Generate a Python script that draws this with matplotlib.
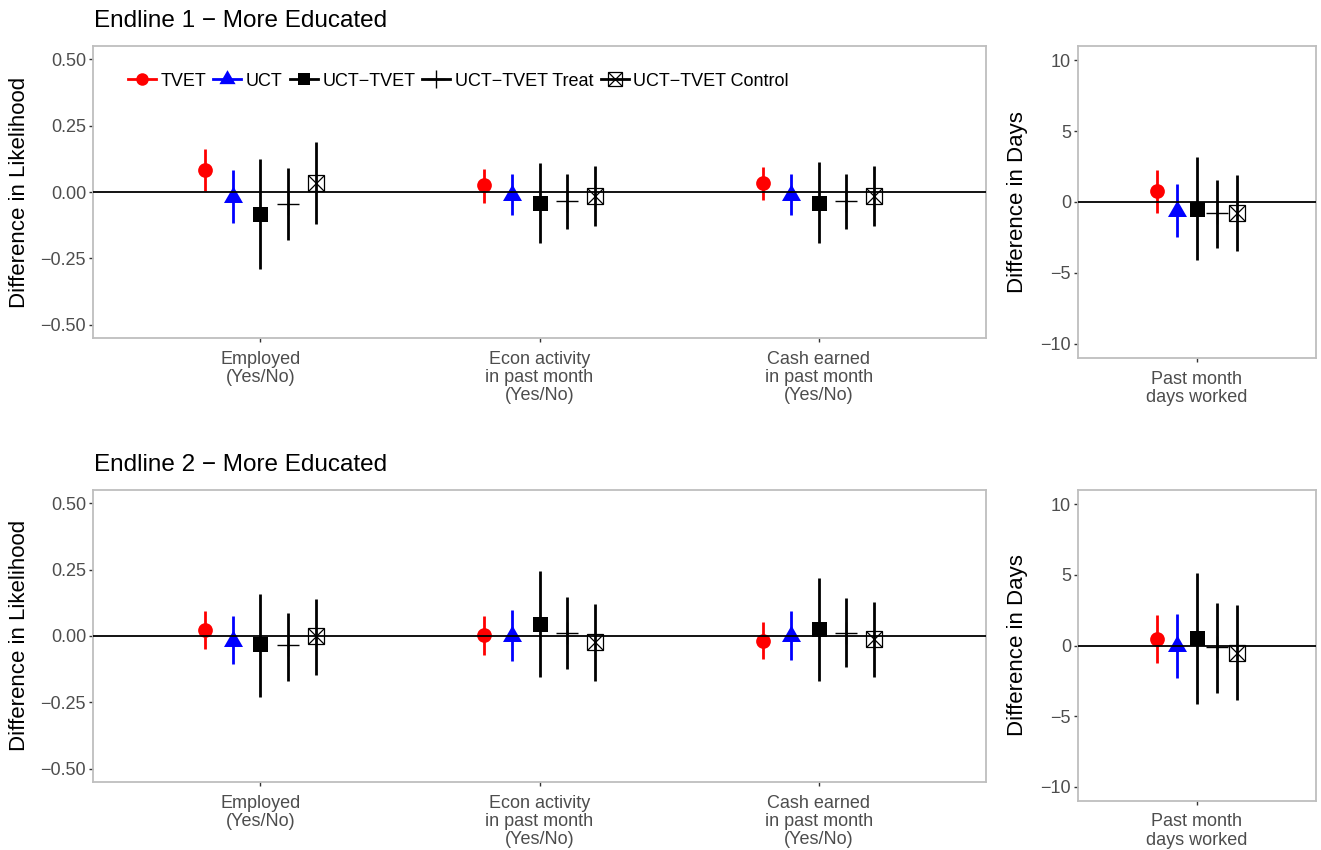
import matplotlib
matplotlib.use("Agg")
import matplotlib.pyplot as plt
from matplotlib.lines import Line2D
from matplotlib.legend_handler import HandlerTuple
import numpy as np

plt.rcParams['font.family'] = ['Liberation Sans', 'DejaVu Sans']

# ---------------------------------------------------------------- data
groups = ["TVET", "UCT", "UCT\u2212TVET", "UCT\u2212TVET Treat", "UCT\u2212TVET Control"]

likelihood_cats = ["Employed\n(Yes/No)",
                   "Econ activity\nin past month\n(Yes/No)",
                   "Cash earned\nin past month\n(Yes/No)"]
days_cats = ["Past month\ndays worked"]

likelihood_ticks = [-0.50, -0.25, 0.00, 0.25, 0.50]
likelihood_ticklabels = ["\u22120.50", "\u22120.25", "0.00", "0.25", "0.50"]
days_ticks = [-10, -5, 0, 5, 10]
days_ticklabels = ["\u221210", "\u22125", "0", "5", "10"]

# Endline 1, likelihood outcomes (rows: groups, columns: outcomes)
e1_like_est = [[0.082, 0.025, 0.033],
               [-0.020, -0.012, -0.012],
               [-0.081, -0.040, -0.040],
               [-0.044, -0.035, -0.035],
               [0.034, -0.016, -0.016]]
e1_like_lo = [[0.004, -0.040, -0.031],
              [-0.118, -0.088, -0.088],
              [-0.290, -0.191, -0.193],
              [-0.182, -0.138, -0.140],
              [-0.120, -0.128, -0.128]]
e1_like_hi = [[0.163, 0.088, 0.095],
              [0.082, 0.069, 0.069],
              [0.126, 0.110, 0.113],
              [0.091, 0.066, 0.068],
              [0.189, 0.098, 0.098]]

# Endline 1, days worked
e1_days_est = [[0.75], [-0.60], [-0.50], [-0.80], [-0.75]]
e1_days_lo = [[-0.77], [-2.46], [-4.10], [-3.24], [-3.45]]
e1_days_hi = [[2.28], [1.29], [3.17], [1.57], [1.92]]

# Endline 2, likelihood outcomes
e2_like_est = [[0.023, 0.005, -0.018],
               [-0.020, 0.000, 0.000],
               [-0.031, 0.044, 0.026],
               [-0.034, 0.013, 0.013],
               [-0.001, -0.024, -0.013]]
e2_like_lo = [[-0.048, -0.070, -0.085],
              [-0.106, -0.095, -0.091],
              [-0.229, -0.154, -0.169],
              [-0.168, -0.123, -0.118],
              [-0.148, -0.169, -0.154]]
e2_like_hi = [[0.093, 0.074, 0.051],
              [0.075, 0.099, 0.094],
              [0.159, 0.243, 0.218],
              [0.085, 0.146, 0.143],
              [0.140, 0.121, 0.128]]

# Endline 2, days worked
e2_days_est = [[0.45], [-0.05], [0.55], [-0.12], [-0.50]]
e2_days_lo = [[-1.24], [-2.28], [-4.15], [-3.33], [-3.87]]
e2_days_hi = [[2.16], [2.23], [5.16], [2.98], [2.84]]

titles = ["Endline 1 \u2212 More Educated", "Endline 2 \u2212 More Educated"]

# ---------------------------------------------------------------- styles
TRI = [(-1.0, -0.57735), (1.0, -0.57735), (0.0, 1.1547), (-1.0, -0.57735)]
styles = [
    dict(color="#FF0000", marker="o", ms=10.6, mfc="#FF0000", mew=0),
    dict(color="#0000FF", marker=TRI, ms=15.8, mfc="#0000FF", mew=0),
    dict(color="black", marker="s", ms=10.8, mfc="black", mew=0),
    dict(color="black", marker="+", ms=15.6, mfc="none", mew=1.0),
    dict(color="black", marker="s", ms=11.3, mfc="none", mew=0.9),
]
ERR_LW = 2.0
TICK_GREY = "#4D4D4D"
BORDER = "#BEBEBE"
W, H = 1321, 850

fig = plt.figure(figsize=(W / 100, H / 100), dpi=100)


def add_axes_px(left, top, right, bottom):
    return fig.add_axes([left / W, 1 - bottom / H, (right - left) / W, (bottom - top) / H])


def draw_panel(ax, cats, est, lo, hi, ylim, ticks, ticklabels):
    n = len(cats)
    x = np.arange(1, n + 1)
    offsets = (np.arange(len(groups)) - 2) * 0.1
    for gi, st in enumerate(styles):
        xs = x + offsets[gi]
        ax.vlines(xs, lo[gi], hi[gi], color=st["color"], lw=ERR_LW, zorder=2)
        ax.plot(xs, est[gi], linestyle="none", marker=st["marker"], ms=st["ms"],
                mfc=st["mfc"], mec=st["color"], mew=st["mew"], zorder=3)
        if gi == 4:
            ax.plot(xs, est[gi], linestyle="none", marker="x", ms=st["ms"],
                    mec="black", mew=0.9, zorder=3)
    ax.axhline(0, color="black", lw=1.3, zorder=4)
    ax.set_xlim(0.4, n + 0.6)
    ax.set_ylim(*ylim)
    ax.set_xticks(x)
    ax.set_xticklabels(cats, linespacing=1.08)
    ax.set_yticks(ticks)
    ax.set_yticklabels(ticklabels)
    ax.tick_params(axis="both", colors="#333333", labelcolor=TICK_GREY,
                   labelsize=13, length=3, width=1.0, pad=2)
    ax.tick_params(axis="x", pad=6.0)
    for sp in ax.spines.values():
        sp.set_color(BORDER)
        sp.set_linewidth(1.3)
    ax.set_facecolor("white")


panels = [
    (add_axes_px(93, 46, 986, 338), likelihood_cats, e1_like_est, e1_like_lo, e1_like_hi,
     (-0.55, 0.55), likelihood_ticks, likelihood_ticklabels),
    (add_axes_px(1078, 46, 1316, 358), days_cats, e1_days_est, e1_days_lo, e1_days_hi,
     (-11, 11), days_ticks, days_ticklabels),
    (add_axes_px(93, 490, 986, 782), likelihood_cats, e2_like_est, e2_like_lo, e2_like_hi,
     (-0.55, 0.55), likelihood_ticks, likelihood_ticklabels),
    (add_axes_px(1078, 490, 1316, 801), days_cats, e2_days_est, e2_days_lo, e2_days_hi,
     (-11, 11), days_ticks, days_ticklabels),
]
for p in panels:
    draw_panel(*p)

# titles
fig.text(94 / W, 1 - 27 / H, titles[0], fontsize=17.5, ha="left", va="baseline")
fig.text(94 / W, 1 - 471 / H, titles[1], fontsize=17.5, ha="left", va="baseline")

# axis titles
for yc in (192, 635):
    fig.text(20 / W, 1 - yc / H, "Difference in Likelihood", rotation=90,
             fontsize=16, ha="center", va="center")
for yc in (202, 645):
    fig.text(1017 / W, 1 - yc / H, "Difference in Days", rotation=90,
             fontsize=16, ha="center", va="center")

# legend (keys drawn a little smaller than the plotted points)
KEY_SCALE = 0.85
handles = []
for gi, st in enumerate(styles):
    h = Line2D([], [], color=st["color"], lw=ERR_LW, marker=st["marker"],
               ms=st["ms"] * KEY_SCALE, mfc=st["mfc"], mec=st["color"], mew=st["mew"])
    if gi == 4:
        hx = Line2D([], [], linestyle="none", marker="x", ms=st["ms"] * KEY_SCALE,
                    mec="black", mew=0.9)
        h = (h, hx)
    handles.append(h)
panels[0][0].legend(handles, groups, loc="center left", bbox_to_anchor=(0.039, 0.88),
                    ncol=5, frameon=False, fontsize=13, handlelength=1.55,
                    handletextpad=0.25, columnspacing=0.4, borderaxespad=0, borderpad=0,
                    handler_map={tuple: HandlerTuple(ndivide=1, pad=0)})

fig.savefig("out.png", dpi=100, facecolor="white")
